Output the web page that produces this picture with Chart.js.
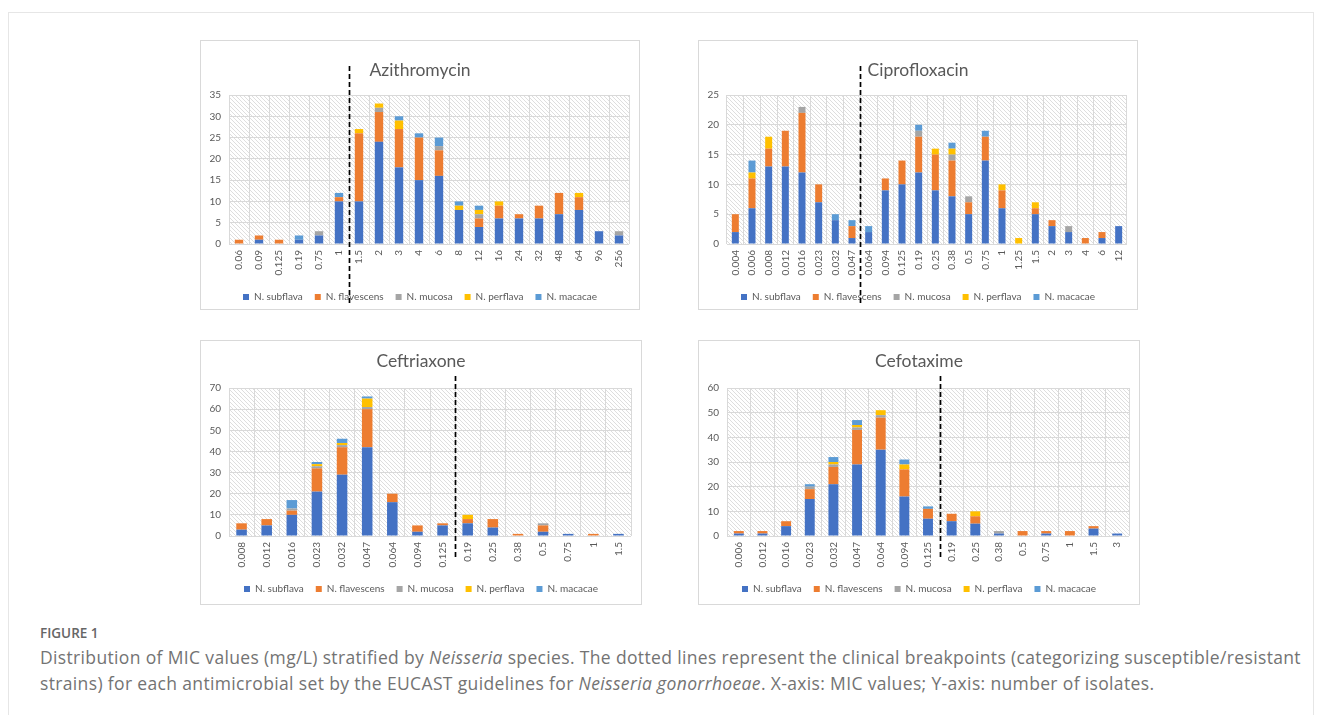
<!DOCTYPE html>
<html lang="en">
<head>
<meta charset="UTF-8">
<title>Distribution of MIC values stratified by Neisseria species</title>
<script src="https://cdn.jsdelivr.net/npm/chart.js"></script>
<style>
  body { margin: 0; background: #fff; width: 1322px; height: 715px; overflow: hidden; position: relative; font-family: Lato, sans-serif; }
  .frame { position: absolute; left: 8px; top: 12px; width: 1306px; height: 720px; border: 1px solid #e6e6e6; box-sizing: border-box; }
  .panel { position: absolute; border: 1px solid #d9d9d9; background: #fff; box-sizing: border-box; }
  .panel canvas { display: block; }
  .fig { position: absolute; left: 40px; top: 624px; font-family: "Open Sans", sans-serif; font-size: 13.5px; font-weight: 600; color: #666; }
  .caption { position: absolute; left: 40px; top: 644px; font-family: "Open Sans", sans-serif; font-size: 17.5px; letter-spacing: 0.35px; line-height: 26px; color: #737373; white-space: nowrap; }
</style>
</head>
<body>
<div class="frame"></div>

<div class="panel" style="left:200px; top:40px; width:440px; height:270px;"><canvas id="aziChart"></canvas></div>
<div class="panel" style="left:698px; top:40px; width:440px; height:270px;"><canvas id="cipChart"></canvas></div>
<div class="panel" style="left:200px; top:340px; width:442px; height:265px;"><canvas id="cfxChart"></canvas></div>
<div class="panel" style="left:698px; top:340px; width:442px; height:265px;"><canvas id="ctxChart"></canvas></div>

<div class="fig">FIGURE 1</div>
<div class="caption">Distribution of MIC values (mg/L) stratified by <i>Neisseria</i> species. The dotted lines represent the clinical breakpoints (categorizing susceptible/resistant<br>strains) for each antimicrobial set by the EUCAST guidelines for <i>Neisseria gonorrhoeae</i>. X-axis: MIC values; Y-axis: number of isolates.</div>

<script>
// ---- data ----
const speciesNames = ["N. subflava", "N. flavescens", "N. mucosa", "N. perflava", "N. macacae"];

// Azithromycin
const aziLabels     = ["0.06","0.09","0.125","0.19","0.75","1","1.5","2","3","4","6","8","12","16","24","32","48","64","96","256"];
const aziSubflava   = [0, 1, 0, 1, 2, 10, 10, 24, 18, 15, 16, 8, 4, 6, 6, 6, 7, 8, 3, 2];
const aziFlavescens = [1, 1, 1, 0, 0, 1, 16, 7, 9, 10, 6, 0, 2, 3, 1, 3, 5, 3, 0, 0];
const aziMucosa     = [0, 0, 0, 0, 1, 0, 0, 1, 0, 0, 1, 0, 1, 0, 0, 0, 0, 0, 0, 1];
const aziPerflava   = [0, 0, 0, 0, 0, 0, 1, 1, 2, 0, 0, 1, 1, 1, 0, 0, 0, 1, 0, 0];
const aziMacacae    = [0, 0, 0, 1, 0, 1, 0, 0, 1, 1, 2, 1, 1, 0, 0, 0, 0, 0, 0, 0];
const aziBreakBefore = "1.5";

// Ciprofloxacin
const cipLabels     = ["0.004","0.006","0.008","0.012","0.016","0.023","0.032","0.047","0.064","0.094","0.125","0.19","0.25","0.38","0.5","0.75","1","1.25","1.5","2","3","4","6","12"];
const cipSubflava   = [2, 6, 13, 13, 12, 7, 4, 1, 2, 9, 10, 12, 9, 8, 5, 14, 6, 0, 5, 3, 2, 0, 1, 3];
const cipFlavescens = [3, 5, 3, 6, 10, 3, 0, 2, 0, 2, 4, 6, 6, 6, 2, 4, 3, 0, 1, 1, 0, 1, 1, 0];
const cipMucosa     = [0, 0, 0, 0, 1, 0, 0, 0, 0, 0, 0, 1, 0, 1, 1, 0, 0, 0, 0, 0, 1, 0, 0, 0];
const cipPerflava   = [0, 1, 2, 0, 0, 0, 0, 0, 0, 0, 0, 0, 1, 1, 0, 0, 1, 1, 1, 0, 0, 0, 0, 0];
const cipMacacae    = [0, 2, 0, 0, 0, 0, 1, 1, 1, 0, 0, 1, 0, 1, 0, 1, 0, 0, 0, 0, 0, 0, 0, 0];
const cipBreakBefore = "0.064";

// Ceftriaxone
const cfxLabels     = ["0.008","0.012","0.016","0.023","0.032","0.047","0.064","0.094","0.125","0.19","0.25","0.38","0.5","0.75","1","1.5"];
const cfxSubflava   = [3, 5, 10, 21, 29, 42, 16, 2, 5, 6, 4, 0, 2, 1, 0, 1];
const cfxFlavescens = [3, 3, 2, 11, 13, 18, 4, 3, 1, 2, 4, 1, 3, 0, 1, 0];
const cfxMucosa     = [0, 0, 1, 1, 1, 1, 0, 0, 0, 0, 0, 0, 1, 0, 0, 0];
const cfxPerflava   = [0, 0, 0, 1, 1, 4, 0, 0, 0, 2, 0, 0, 0, 0, 0, 0];
const cfxMacacae    = [0, 0, 4, 1, 2, 1, 0, 0, 0, 0, 0, 0, 0, 0, 0, 0];
const cfxBreakBefore = "0.19";

// Cefotaxime
const ctxLabels     = ["0.006","0.012","0.016","0.023","0.032","0.047","0.064","0.094","0.125","0.19","0.25","0.38","0.5","0.75","1","1.5","3"];
const ctxSubflava   = [1, 1, 4, 15, 21, 29, 35, 16, 7, 6, 5, 1, 0, 1, 0, 3, 1];
const ctxFlavescens = [1, 1, 2, 4, 7, 14, 13, 11, 4, 3, 3, 0, 2, 1, 2, 1, 0];
const ctxMucosa     = [0, 0, 0, 1, 1, 1, 1, 0, 0, 0, 0, 1, 0, 0, 0, 0, 0];
const ctxPerflava   = [0, 0, 0, 0, 1, 1, 2, 2, 0, 0, 2, 0, 0, 0, 0, 0, 0];
const ctxMacacae    = [0, 0, 0, 1, 2, 2, 0, 2, 1, 0, 0, 0, 0, 0, 0, 0, 0];
const ctxBreakBefore = "0.19";

// ---- styling ----
const speciesColors = ["#4472C4", "#ED7D31", "#A5A5A5", "#FFC000", "#5B9BD5"];
const textGray = "#595959";
const gridGray = "#d9d9d9";

function makeHatch() {
    const c = document.createElement("canvas");
    c.width = 4; c.height = 4;
    const g = c.getContext("2d");
    g.fillStyle = "#ffffff";
    g.fillRect(0, 0, 4, 4);
    g.strokeStyle = "#dedede";
    g.lineWidth = 1;
    g.beginPath();
    g.moveTo(-1, -1); g.lineTo(5, 5);
    g.moveTo(-1, 3); g.lineTo(1, 5);
    g.moveTo(3, -1); g.lineTo(5, 1);
    g.stroke();
    return g.createPattern(c, "repeat");
}
const hatch = makeHatch();

const hatchPlugin = {
    id: "hatch",
    beforeDraw(chart) {
        const a = chart.chartArea;
        const ctx = chart.ctx;
        ctx.save();
        ctx.fillStyle = hatch;
        ctx.fillRect(a.left, a.top, a.right - a.left, a.bottom - a.top);
        ctx.restore();
    }
};

// dashed breakpoint line between two categories
const breakLinePlugin = {
    id: "breakLine",
    afterDraw(chart, args, opts) {
        const xs = chart.scales.x;
        const i = chart.data.labels.indexOf(opts.before);
        const px = Math.round((xs.getPixelForValue(i - 1) + xs.getPixelForValue(i)) / 2) + 0.5;
        const ctx = chart.ctx;
        ctx.save();
        ctx.strokeStyle = "#000";
        ctx.lineWidth = 1.7;
        ctx.setLineDash([5, 3]);
        ctx.beginPath();
        ctx.moveTo(px, chart.chartArea.top - opts.above);
        ctx.lineTo(px, chart.chartArea.bottom + opts.below);
        ctx.stroke();
        ctx.restore();
    }
};

// box: title padding, x-axis height, bottom padding and breakpoint line reach per panel
function drawChart(id, title, labels, series, yMax, yStep, breakBefore, box) {
    new Chart(document.getElementById(id).getContext("2d"), {
        type: "bar",
        data: {
            labels: labels,
            datasets: series.map((d, k) => ({
                label: speciesNames[k],
                data: d,
                backgroundColor: speciesColors[k],
                borderWidth: 0,
                barPercentage: 0.42,
                categoryPercentage: 1
            }))
        },
        options: {
            responsive: true,
            maintainAspectRatio: false,
            animation: false,
            layout: { padding: { left: 0, right: 0, top: 0, bottom: box.bottom } },
            plugins: {
                title: {
                    display: true,
                    text: title,
                    color: textGray,
                    font: { family: "Lato", size: 17.5, weight: "normal", lineHeight: 1.2 },
                    padding: { top: box.titleTop, bottom: box.titleBottom }
                },
                legend: {
                    position: "bottom",
                    labels: {
                        color: textGray,
                        font: { family: "Lato", size: 10 },
                        boxWidth: 6,
                        boxHeight: 6,
                        padding: 12
                    }
                },
                tooltip: { enabled: false },
                breakLine: { before: breakBefore, above: box.above, below: box.below }
            },
            scales: {
                x: {
                    stacked: true,
                    grid: { color: gridGray, drawTicks: false },
                    border: { display: false },
                    ticks: {
                        color: textGray,
                        font: { family: "Lato", size: 10 },
                        minRotation: 90,
                        maxRotation: 90,
                        autoSkip: false,
                        padding: 6
                    },
                    afterFit(scale) { scale.height = box.xHeight; }
                },
                y: {
                    stacked: true,
                    min: 0,
                    max: yMax,
                    grid: { color: gridGray, drawTicks: false },
                    border: { display: false },
                    ticks: {
                        stepSize: yStep,
                        autoSkip: false,
                        color: textGray,
                        font: { family: "Lato", size: 10 },
                        padding: 8
                    },
                    afterFit(scale) { scale.width = 28; }
                },
                // empty right-hand strip so the plot keeps its right margin
                // while title and legend stay centred on the panel
                yRight: {
                    position: "right",
                    grid: { display: false },
                    border: { display: false },
                    ticks: { display: false },
                    afterFit(scale) { scale.width = 10; }
                }
            }
        },
        plugins: [hatchPlugin, breakLinePlugin]
    });
}

const topBox = { titleTop: 19, titleBottom: 14, xHeight: 36, bottom: -3, above: 29, below: 61 };
const bottomBox = { titleTop: 10, titleBottom: 16, xHeight: 36, bottom: 0, above: 12, below: 24 };

drawChart("aziChart", "Azithromycin", aziLabels,
    [aziSubflava, aziFlavescens, aziMucosa, aziPerflava, aziMacacae], 35, 5, aziBreakBefore, topBox);
drawChart("cipChart", "Ciprofloxacin", cipLabels,
    [cipSubflava, cipFlavescens, cipMucosa, cipPerflava, cipMacacae], 25, 5, cipBreakBefore, topBox);
drawChart("cfxChart", "Ceftriaxone", cfxLabels,
    [cfxSubflava, cfxFlavescens, cfxMucosa, cfxPerflava, cfxMacacae], 70, 10, cfxBreakBefore, bottomBox);
drawChart("ctxChart", "Cefotaxime", ctxLabels,
    [ctxSubflava, ctxFlavescens, ctxMucosa, ctxPerflava, ctxMacacae], 60, 10, ctxBreakBefore, bottomBox);
</script>
</body>
</html>
